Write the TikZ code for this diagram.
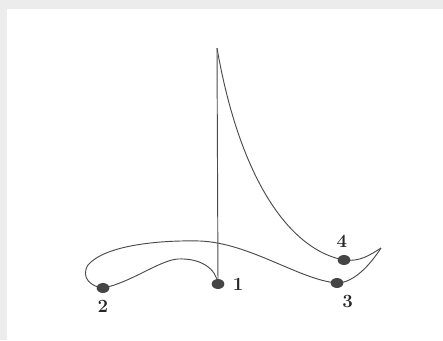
\documentclass[tikz,border=0pt]{standalone}
\usepackage{tikz}
\usetikzlibrary{positioning,shapes.geometric,backgrounds}
\definecolor{tline}{HTML}{4A4A4A}
\definecolor{tdot}{HTML}{454545}
\definecolor{tframe}{HTML}{ECECEC}

\begin{document}
\begin{tikzpicture}[x=0.75pt, y=-0.75pt, font=\fontsize{14}{16}\selectfont\bfseries,
  curve/.style={draw=tline, line width=0.7pt},
  dot/.style={ellipse, fill=tdot, inner sep=0pt, minimum width=9.5pt, minimum height=7.5pt},
  num/.style={inner sep=1pt, text=black!85}]
\useasboundingbox (0,0) rectangle (443,340);
% points
\coordinate (top) at (217,48);
\coordinate (tip) at (381,248);
\coordinate (hump) at (178,259);
\coordinate (loop) at (88,265);
\coordinate (arc) at (200,241);
\node[dot] (p1) at (218,284) {};
\node[dot] (p2) at (103,288) {};
\node[dot] (p3) at (337,283) {};
\node[dot] (p4) at (344,260) {};
% labels
\node[num, right=5pt of p1] (l1) {1};
\node[num, below=4pt of p2] (l2) {2};
\node[num, below=4pt of p3, xshift=8pt] (l3) {3};
\node[num, above=4pt of p4, xshift=-1.5pt] (l4) {4};
% frame and trajectory behind the dots
\begin{scope}[on background layer]
\fill[tframe] (0,0) rectangle (443,340);
\fill[white] (7,9) rectangle (443,340);
\draw[curve] (p1.center) .. controls (216,268) and (200,258) .. (hump)
  .. controls (160,260) and (130,283) .. (p2.center);
\draw[curve] (p2.center) .. controls (92,287) and (80,278) .. (loop)
  .. controls (105,245) and (160,240) .. (arc)
  .. controls (250,243) and (300,280) .. (p3.center);
\draw[curve] (p3.center) .. controls (355,283) and (372,262) .. (tip);
\draw[curve] (tip) .. controls (370,255) and (360,262) .. (p4.center);
\draw[curve] (p4.center) .. controls (290,250) and (240,180) .. (top);
\draw[curve] (top) -- (p1.center);
\end{scope}
\end{tikzpicture}
\end{document}
